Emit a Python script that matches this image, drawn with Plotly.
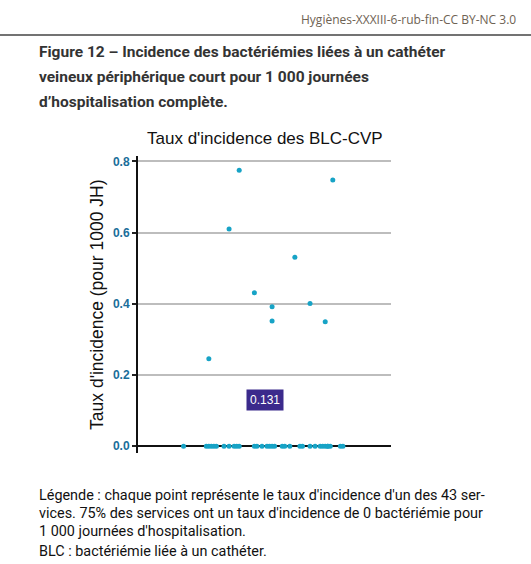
import plotly.graph_objects as go

W, H = 531, 564

# incidence per service (pour 1000 JH) and horizontal jitter within the single group
nonzero_rates = [0.775, 0.748, 0.610, 0.531, 0.431, 0.392, 0.352, 0.401, 0.350, 0.246]
nonzero_jitter = [0.40, 0.77, 0.36, 0.62, 0.46, 0.53, 0.53, 0.68, 0.74, 0.28]

zero_jitter = [0.18, 0.27, 0.28, 0.29, 0.30, 0.31, 0.34, 0.36, 0.38, 0.39, 0.40,
               0.46, 0.47, 0.49, 0.51, 0.52, 0.53, 0.54, 0.57, 0.58, 0.60, 0.64,
               0.65, 0.68, 0.70, 0.72, 0.73, 0.74, 0.75, 0.76, 0.80, 0.81, 0.75]
zero_rates = [0.0] * len(zero_jitter)

mean_rate = 0.131
y_ticks = [0.0, 0.2, 0.4, 0.6, 0.8]

rates = nonzero_rates + zero_rates
jitter = nonzero_jitter + zero_jitter

dot_color = "#17a3c6"
tick_color = "#1a6e9a"


def px(x):
    return x / W


def py(y):
    return 1 - y / H


fig = go.Figure()

fig.add_trace(
    go.Scatter(
        x=jitter,
        y=rates,
        mode="markers",
        marker=dict(color=dot_color, size=5),
        hoverinfo="y",
        showlegend=False,
    )
)

fig.add_annotation(
    x=0.5, y=mean_rate, xref="x", yref="y",
    text="0.131", showarrow=False,
    font=dict(family="Liberation Sans", size=12, color="white"),
    bgcolor="#3b2a8c", borderpad=3,
)

fig.update_xaxes(
    domain=[px(138), px(391)], range=[0, 1],
    showgrid=False, zeroline=False, showticklabels=False, showline=False,
)
fig.update_yaxes(
    domain=[py(453), py(155)], range=[-0.02, 0.814],
    tickvals=y_ticks, ticktext=["%.1f" % v for v in y_ticks],
    tickfont=dict(family="Liberation Sans", size=12, color=tick_color, weight="bold"),
    ticks="outside", ticklen=4, tickwidth=1.5, tickcolor="#222",
    showline=True, linecolor="#111", linewidth=2,
    showgrid=True, gridcolor="#bdbdbd", gridwidth=1.5,
    zeroline=True, zerolinecolor="#111", zerolinewidth=2,
)

title_font = dict(family="Roboto", size=15.5, color="#333333")
caption_font = dict(family="Roboto", size=14.4, color="#111111")

texts = [
    dict(x=518, y=18, text="Hygiènes-XXXIII-6-rub-fin-CC BY-NC 3.0", xanchor="right",
         font=dict(family="Open Sans", size=12, color="#6e6253")),
    dict(x=37, y=50, text="<b>Figure 12 – Incidence des bactériémies liées à un cathéter</b>",
         xanchor="left", font=title_font),
    dict(x=37, y=75, text="<b>veineux périphérique court pour 1 000 journées</b>",
         xanchor="left", font=title_font),
    dict(x=37, y=100, text="<b>d’hospitalisation complète.</b>",
         xanchor="left", font=title_font),
    dict(x=265, y=137, text="Taux d'incidence des BLC-CVP", xanchor="center",
         font=dict(family="Liberation Sans", size=17, color="#111111")),
    dict(x=37, y=495, text="Légende : chaque point représente le taux d'incidence d'un des 43 ser-",
         xanchor="left", font=caption_font),
    dict(x=37, y=513, text="vices. 75% des services ont un taux d'incidence de 0 bactériémie pour",
         xanchor="left", font=caption_font),
    dict(x=37, y=531, text="1 000 journées d'hospitalisation.",
         xanchor="left", font=caption_font),
    dict(x=37, y=551, text="BLC : bactériémie liée à un cathéter.",
         xanchor="left", font=caption_font),
]
for t in texts:
    fig.add_annotation(
        x=px(t["x"]), y=py(t["y"]), xref="paper", yref="paper",
        text=t["text"], xanchor=t["xanchor"], yanchor="middle",
        showarrow=False, font=t["font"],
    )

fig.add_annotation(
    x=px(97), y=py(304), xref="paper", yref="paper",
    xanchor="center", yanchor="middle",
    text="Taux d'incidence (pour 1000 JH)", textangle=-90, showarrow=False,
    font=dict(family="Liberation Sans", size=17.5, color="#111111"),
)

# header rule
fig.add_shape(
    type="line", xref="paper", yref="paper",
    x0=0, x1=1, y0=py(33), y1=py(33),
    line=dict(color="#444444", width=1.5),
)

fig.update_layout(
    width=W, height=H,
    margin=dict(l=0, r=0, t=0, b=0),
    paper_bgcolor="white", plot_bgcolor="white",
    showlegend=False,
)

fig.write_html(
    "out.html",
    config={"displayModeBar": False},
    post_script="document.body.style.margin='0';",
)
